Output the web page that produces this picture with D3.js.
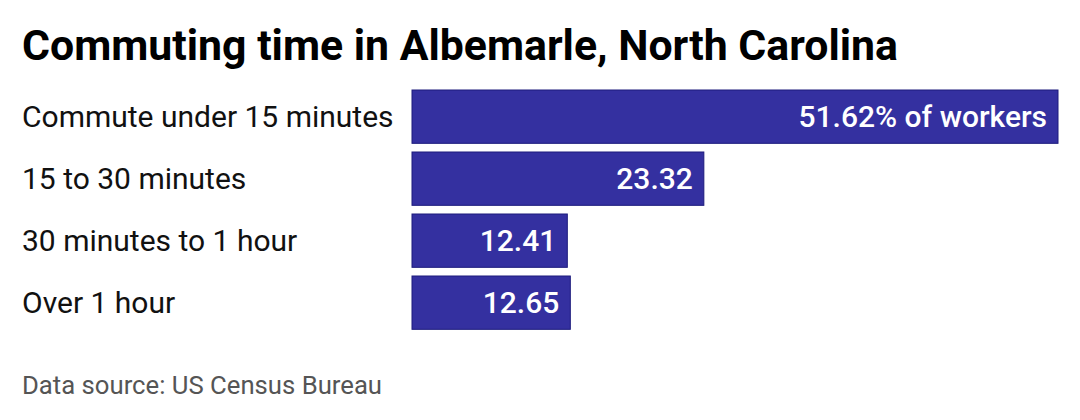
<!DOCTYPE html>
<html>
<head>
<meta charset="utf-8">
<script src="https://cdn.jsdelivr.net/npm/d3@7"></script>
<style>
  body { margin: 0; background: #fff; }
  text { font-family: Roboto, "Noto Sans", sans-serif; }
</style>
</head>
<body>
<div id="chart"></div>
<script>
const categories = ["Commute under 15 minutes", "15 to 30 minutes", "30 minutes to 1 hour", "Over 1 hour"]
const shares = [51.62, 23.32, 12.41, 12.65]
const valueLabels = ["51.62% of workers", "23.32", "12.41", "12.65"]

const svgWidth = 1080
const svgHeight = 420

const margin = { top: 90, left: 412 }
const step = 62

const svg = d3.select("#chart").append("svg")
  .attr("width", svgWidth)
  .attr("height", svgHeight)

svg.append("text")
  .attr("x", 22)
  .attr("y", 60)
  .attr("font-size", 42.8)
  .attr("font-weight", 700)
  .attr("fill", "#000")
  .attr("textLength", 876)
  .attr("lengthAdjust", "spacingAndGlyphs")
  .text("Commuting time in Albemarle, North Carolina")

const x = d3.scaleLinear()
  .domain([0, d3.max(shares)])
  .range([margin.left, 1058])

const y = d3.scaleBand()
  .domain(categories)
  .range([margin.top, margin.top + step * categories.length - step * 0.14])
  .paddingInner(0.14)
  .paddingOuter(0)

const rows = svg.selectAll("g.row")
  .data(categories)
  .enter()
  .append("g")
  .attr("class", "row")

rows.append("rect")
  .attr("x", x(0))
  .attr("y", d => y(d))
  .attr("width", (d, i) => x(shares[i]) - x(0))
  .attr("height", y.bandwidth())
  .attr("fill", "#3430a0")
  .attr("stroke", "#1c1a7c")
  .attr("stroke-width", 1)

rows.append("text")
  .attr("x", 22)
  .attr("y", d => y(d) + y.bandwidth() / 2)
  .attr("dy", "0.35em")
  .attr("font-size", 30)
  .attr("fill", "#111")
  .text(d => d)

rows.append("text")
  .attr("x", (d, i) => x(shares[i]) - 11)
  .attr("y", d => y(d) + y.bandwidth() / 2)
  .attr("dy", "0.33em")
  .attr("text-anchor", "end")
  .attr("font-size", 30)
  .attr("font-weight", 500)
  .attr("fill", "#fff")
  .text((d, i) => valueLabels[i])

svg.append("text")
  .attr("x", 22)
  .attr("y", 394)
  .attr("font-size", 25.7)
  .attr("fill", "#555")
  .text("Data source: US Census Bureau")
</script>
</body>
</html>
